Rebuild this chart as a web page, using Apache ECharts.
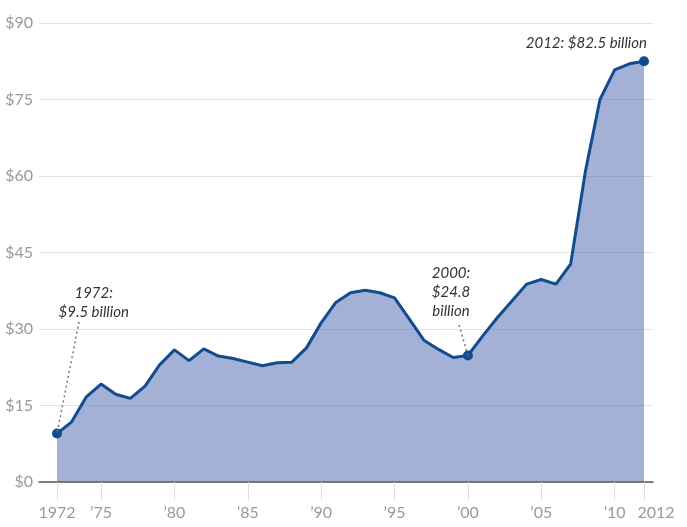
<!DOCTYPE html>
<html>
<head>
<meta charset="utf-8">
<script src="https://cdn.jsdelivr.net/npm/echarts@6/dist/echarts.min.js"></script>
<style>
html,body{margin:0;padding:0;background:#fff;}
#chart{width:687px;height:527px;}
</style>
</head>
<body>
<div id="chart"></div>
<script>
var years = [1972,1973,1974,1975,1976,1977,1978,1979,1980,1981,1982,1983,1984,1985,1986,1987,1988,1989,1990,1991,1992,1993,1994,1995,1996,1997,1998,1999,2000,2001,2002,2003,2004,2005,2006,2007,2008,2009,2010,2011,2012];
var values = [9.5,11.8,16.7,19.2,17.2,16.4,18.8,23.0,25.9,23.8,26.1,24.7,24.2,23.5,22.8,23.4,23.5,26.3,31.2,35.2,37.1,37.6,37.1,36.1,32.0,27.8,26.0,24.4,24.8,28.6,32.2,35.5,38.8,39.7,38.8,42.7,60.8,75.0,80.8,82.0,82.5];
var tickYears = [1972,1975,1980,1985,1990,1995,2000,2005,2010,2012];
var yTicks = [0,15,30,45,60,75,90];
var highlightYears = [1972,2000,2012];
var notes = [
  {text:'1972:\n$9.5 billion', at:[1974.5,35.2], from:[1973.5,31.4], to:[1972,9.5], align:'center'},
  {text:'2000:\n$24.8\nbillion', at:[1998.85,37.3], from:[1999.4,30.8], to:[2000,24.8], align:'center'},
  {text:'2012: $82.5 billion', at:[2012.2,86.1], from:null, to:null, align:'right'}
];

var seriesData = years.map(function(y,i){
  var hl = highlightYears.indexOf(y) >= 0;
  return {value:[y, values[i]], symbol: hl ? 'circle' : 'none', symbolSize: hl ? 10 : 0};
});

var markPts = notes.map(function(n){
  return {coord:n.at, symbol:'circle', symbolSize:0,
    label:{show:true, formatter:n.text, position:'inside', align:n.align, verticalAlign:'middle',
      fontFamily:'Lato', fontStyle:'italic', fontSize:15, lineHeight:19, color:'#333'}};
});
var markLns = notes.filter(function(n){return n.from;}).map(function(n){
  return [{coord:n.from},{coord:n.to}];
});

var chart = echarts.init(document.getElementById('chart'));
chart.setOption({
  animation:false,
  backgroundColor:'#fff',
  grid:{left:39, right:34, top:23, bottom:45, containLabel:false},
  xAxis:{
    type:'value', min:1970.773, max:2012.613,
    axisLine:{show:true, lineStyle:{color:'#555', width:1.5}},
    axisTick:{show:true, customValues:tickYears, length:18, lineStyle:{color:'#ddd', width:1}},
    axisLabel:{
      customValues:tickYears, margin:23, color:'#999', fontFamily:'Lato', fontSize:16,
      formatter:function(v){
        if(v===1972) return '1972';
        if(v===2012) return '{r|2012}';
        return '\u2019' + String(v).slice(2);
      },
      rich:{r:{padding:[0,0,0,24], color:'#999', fontFamily:'Lato', fontSize:16}}
    },
    splitLine:{show:false}
  },
  yAxis:{
    type:'value', min:0, max:90, interval:15,
    axisLine:{show:false}, axisTick:{show:false},
    axisLabel:{customValues:yTicks, formatter:function(v){return '$'+v;}, color:'#999', fontFamily:'Lato', fontSize:16, margin:6},
    splitLine:{lineStyle:{color:'#e2e2e2', width:1}}
  },
  series:[{
    type:'line',
    data:seriesData,
    showSymbol:true,
    lineStyle:{color:'#134c8e', width:3},
    itemStyle:{color:'#134c8e'},
    areaStyle:{color:'rgba(72,100,174,0.5)', opacity:1},
    markPoint:{silent:true, data:markPts},
    markLine:{silent:true, symbol:['none','none'],
      lineStyle:{color:'#777', type:[2,3], width:1.5},
      label:{show:false}, data:markLns}
  }]
});
</script>
</body>
</html>
